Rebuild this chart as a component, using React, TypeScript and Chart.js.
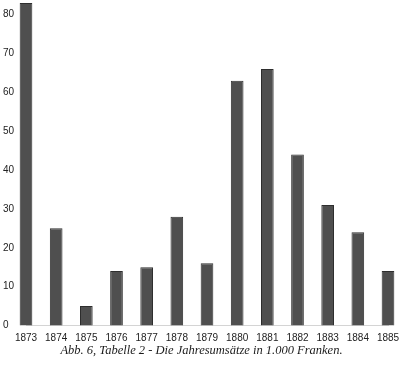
import React, { useEffect, useRef } from "react";
import { Chart, registerables } from "chart.js";

Chart.register(...registerables);

const years = ["1873", "1874", "1875", "1876", "1877", "1878", "1879", "1880", "1881", "1882", "1883", "1884", "1885"];
const umsatz = [83, 25, 5, 14, 15, 28, 16, 63, 66, 44, 31, 24, 14];
const yTicks = [0, 10, 20, 30, 40, 50, 60, 70, 80];
const caption = "Abb. 6, Tabelle 2 - Die Jahresumsätze in 1.000 Franken.";

export default function App() {
  const ref = useRef<HTMLCanvasElement | null>(null);

  useEffect(() => {
    document.body.style.margin = "0";
    document.body.style.overflow = "hidden";
    const canvas = ref.current;
    if (!canvas) return;
    const chart = new Chart(canvas, {
      type: "bar",
      data: {
        labels: years,
        datasets: [
          {
            data: umsatz,
            backgroundColor: "#4f4f4f",
            borderColor: "#2e2e2e",
            borderWidth: 1,
            barPercentage: 0.42,
            categoryPercentage: 1,
            clip: false as any,
          },
        ],
      },
      options: {
        animation: false,
        responsive: false,
        maintainAspectRatio: false,
        layout: { padding: { top: 3, left: 3, right: 0, bottom: 0 } },
        plugins: {
          legend: { display: false },
          tooltip: { enabled: false },
          title: {
            display: true,
            position: "bottom",
            text: caption,
            color: "#1a1a1a",
            font: { family: "'Liberation Serif', serif", size: 12.5, style: "italic", weight: "normal", lineHeight: 1 },
            padding: { top: 0, bottom: 8 },
          },
        },
        scales: {
          x: {
            type: "category",
            offset: false,
            grid: { display: false, drawTicks: false },
            border: { display: true, color: "#d4d4d4", width: 1 },
            ticks: {
              color: "#222",
              font: { family: "'Liberation Sans', Arial, sans-serif", size: 10 },
              padding: 7,
              maxRotation: 0,
              autoSkip: false,
            },
            afterFit: (s: any) => {
              s.paddingLeft = 0;
              s.paddingRight = 12;
              s.height = 19;
            },
          },
          y: {
            min: 0,
            max: 83,
            grid: { display: false, drawTicks: false },
            border: { display: false },
            afterBuildTicks: (s: any) => {
              s.ticks = yTicks.map((v) => ({ value: v }));
            },
            ticks: {
              color: "#222",
              crossAlign: "far",
              font: { family: "'Liberation Sans', Arial, sans-serif", size: 10 },
              padding: 4,
            },
            afterFit: (s: any) => {
              s.width = 23;
              s.paddingTop = 0;
              s.paddingBottom = 0;
            },
          },
        },
      },
    });
    return () => chart.destroy();
  }, []);

  return <canvas ref={ref} width={400} height={365} style={{ display: "block" }} />;
}
